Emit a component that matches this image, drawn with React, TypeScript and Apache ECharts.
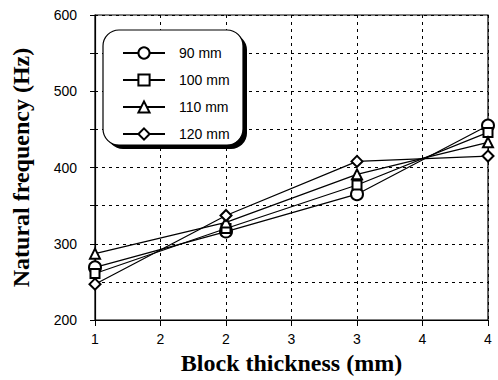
import React, { useEffect, useRef } from "react";
import * as echarts from "echarts";

const thickness = [1, 2, 3, 4];
const seriesNames = ["90 mm", "100 mm", "110 mm", "120 mm"];
const freq90 = [269, 316, 365, 455];
const freq100 = [261, 320, 377, 446];
const freq110 = [287, 328, 391, 433];
const freq120 = [247, 337, 408, 415];
const symbols = ["emptyCircle", "emptyRect", "emptyTriangle", "emptyDiamond"];
const symbolSizes = [12, 9, 10, 11];

export default function App() {
  const ref = useRef<HTMLDivElement>(null);
  useEffect(() => {
    if (!ref.current) return;
    const chart = echarts.init(ref.current, null, { renderer: "svg" });
    const all = [freq90, freq100, freq110, freq120];
    const sans = "Liberation Sans";
    const serif = "Liberation Serif";
    chart.setOption({
      animation: false,
      backgroundColor: "#fff",
      grid: {
        left: 95,
        right: 10,
        top: 15,
        bottom: 60,
        show: true,
        borderColor: "#000",
        borderWidth: 1.2,
        backgroundColor: "transparent",
      },
      xAxis: {
        type: "value",
        min: 1,
        max: 4,
        interval: 0.5,
        name: "Block thickness (mm)",
        nameLocation: "middle",
        nameGap: 31,
        nameTextStyle: { fontFamily: serif, fontWeight: "bold", fontSize: 24, color: "#000" },
        axisLine: { lineStyle: { color: "#000", width: 1.2 } },
        axisTick: { show: true, length: 6, lineStyle: { color: "#000" } },
        axisLabel: {
          color: "#000",
          fontFamily: sans,
          fontSize: 14,
          margin: 12,
          formatter: (v: number) => String(Math.round(v)),
        },
        splitLine: { show: true, lineStyle: { color: "#000", type: [3, 4], width: 1 } },
      },
      yAxis: {
        type: "value",
        min: 200,
        max: 600,
        interval: 50,
        name: "Natural frequency (Hz)",
        nameLocation: "middle",
        nameGap: 62,
        nameTextStyle: { fontFamily: serif, fontWeight: "bold", fontSize: 24, color: "#000" },
        axisLine: { show: true, lineStyle: { color: "#000", width: 1.2 } },
        axisTick: { show: true, length: 5, lineStyle: { color: "#000" } },
        axisLabel: {
          color: "#000",
          fontFamily: sans,
          fontSize: 14,
          margin: 18,
          formatter: (v: number) => (v % 100 === 0 ? String(v) : ""),
        },
        splitLine: { show: true, lineStyle: { color: "#000", type: [3, 4], width: 1 } },
      },
      legend: {
        orient: "vertical",
        left: 117,
        top: 41,
        itemWidth: 42,
        itemHeight: 14,
        itemGap: 13,
        z: 6,
        textStyle: { fontFamily: sans, fontSize: 14, color: "#000", padding: [0, 0, 0, 9] },
        data: seriesNames,
      },
      graphic: [
        {
          type: "rect",
          z: 5,
          shape: { x: 107, y: 34, width: 140, height: 115, r: 16 },
          style: { fill: "#000" },
        },
        {
          type: "rect",
          z: 5,
          shape: { x: 103, y: 30, width: 140, height: 115, r: 16 },
          style: { fill: "#fff", stroke: "#000", lineWidth: 1.2 },
        },
      ],
      series: seriesNames.map((name, i) => ({
        name,
        type: "line",
        data: thickness.map((x, j) => [x, all[i][j]]),
        symbol: symbols[i],
        symbolSize: symbolSizes[i],
        lineStyle: { color: "#000", width: 1.2 },
        itemStyle: { color: "#000", borderColor: "#000", borderWidth: 1.2 },
        z: 3,
      })),
    });
    return () => chart.dispose();
  }, []);
  return <div ref={ref} style={{ width: 498, height: 380, position: "absolute", left: 0, top: 0 }} />;
}
